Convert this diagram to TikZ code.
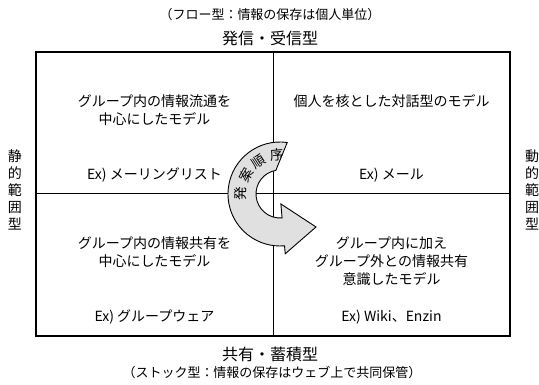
\documentclass[tikz,border=0pt]{standalone}
\usepackage{fontspec}
\setmainfont{Noto Sans CJK JP}
\usetikzlibrary{calc}
\begin{document}
\begin{tikzpicture}[x=1pt,y=1pt,
  box/.style={draw=black, line width=1.3pt},
  mid/.style={draw=black, line width=1pt},
  lbl/.style={font=\fontsize{14}{18}\selectfont, align=center, inner sep=0pt},
  sub/.style={font=\fontsize{13}{16}\selectfont, inner sep=0pt},
  ttl/.style={font=\fontsize{16}{19}\selectfont, inner sep=0pt},
  side/.style={font=\fontsize{14}{17}\selectfont, align=center, inner sep=0pt},
  arr/.style={draw=black, fill=black!12, line width=0.9pt, line join=miter},
  arrtxt/.style={font=\fontsize{13.5}{13.5}\selectfont, inner sep=0pt}]
\useasboundingbox (0,0) rectangle (539,385);
% frame
\coordinate (BL) at (36,49);
\coordinate (TR) at (510,333);
\coordinate (MT) at (273,333);
\coordinate (MB) at (273,49);
\coordinate (ML) at (36,191);
\coordinate (MR) at (510,191);
\draw[mid] (MT) -- (MB);
\draw[mid] (ML) -- (MR);
\draw[box] (BL) rectangle (TR);
% headings
\node[sub] (topsub) at (270,370) {（フロー型：情報の保存は個人単位）};
\node[ttl] (toptitle) at (270,347) {発信・受信型};
\node[ttl] (bottitle) at (270,31) {共有・蓄積型};
\node[sub] (botsub) at (272,12) {（ストック型：情報の保存はウェブ上で共同保管）};
\node[side] (left) at (15,195) {静\\的\\範\\囲\\型};
\node[side] (right) at (532,195) {動\\的\\範\\囲\\型};
% quadrants
\node[lbl] (tl) at (154.5,275) {グループ内の情報流通を\\中心にしたモデル};
\node[lbl] (tlex) at (154.5,210) {Ex) メーリングリスト};
\node[lbl] (tr) at (391.5,284) {個人を核とした対話型のモデル};
\node[lbl] (trex) at (391.5,210) {Ex) メール};
\node[lbl] (bl) at (154.5,133) {グループ内の情報共有を\\中心にしたモデル};
\node[lbl] (blex) at (154.5,68) {Ex) グループウェア};
\node[lbl] (br) at (391.5,124) {グループ内に加え\\グループ外との情報共有\\意識したモデル};
\node[lbl] (brex) at (391.5,68) {Ex) Wiki、Enzin};
% curved arrow
\coordinate (C) at (280,191);
\draw[arr] ($(C)+(82:52)$) arc[start angle=82, end angle=275, radius=52]
  -- ($(C)+(275:60)$)
  -- ($(C)+(275:36)+(5:33)$)
  -- ($(C)+(275:10)$)
  -- ($(C)+(275:24)$)
  arc[start angle=275, end angle=100, radius=24] -- cycle;
\node[arrtxt, rotate=89] (a1) at ($(C)+(179:39)$) {発};
\node[arrtxt, rotate=61] (a2) at ($(C)+(151:39)$) {案};
\node[arrtxt, rotate=33] (a3) at ($(C)+(123:39)$) {順};
\node[arrtxt, rotate=5] (a4) at ($(C)+(95:39)$) {序};
\end{tikzpicture}
\end{document}
